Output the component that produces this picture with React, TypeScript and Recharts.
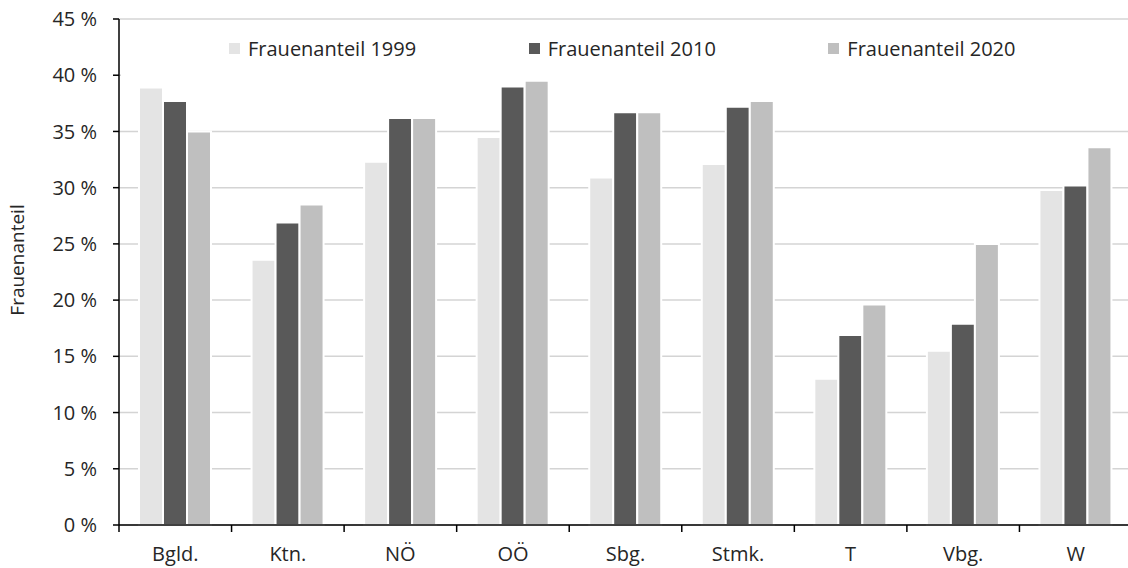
import React from 'react';
import { BarChart, Bar, XAxis, YAxis, CartesianGrid, Legend } from 'recharts';

const categories = ['Bgld.', 'Ktn.', 'NÖ', 'OÖ', 'Sbg.', 'Stmk.', 'T', 'Vbg.', 'W'];
const values1999 = [38.9, 23.6, 32.3, 34.5, 30.9, 32.1, 13.0, 15.5, 29.8];
const values2010 = [37.7, 26.9, 36.2, 39.0, 36.7, 37.2, 16.9, 17.9, 30.2];
const values2020 = [35.0, 28.5, 36.2, 39.5, 36.7, 37.7, 19.6, 25.0, 33.6];
const yTicks = [0, 5, 10, 15, 20, 25, 30, 35, 40, 45];
const seriesNames = ['Frauenanteil 1999', 'Frauenanteil 2010', 'Frauenanteil 2020'];
const seriesColors = ['#e4e4e4', '#595959', '#bfbfbf'];

const data = categories.map((c, i) => ({
  name: c,
  v1999: values1999[i],
  v2010: values2010[i],
  v2020: values2020[i],
}));

const FONT = '"Open Sans", sans-serif';
const TEXT = '#262626';

const XTick = (props: any) => {
  const { x, y, payload } = props;
  const half = payload && payload.offset ? payload.offset : 0;
  return (
    <g>
      <line x1={x - half} x2={x - half} y1={y} y2={y + 7} stroke="#000" strokeWidth={1.5} />
      <text x={x} y={y + 36} textAnchor="middle" fontFamily={FONT} fontSize={20} fill={TEXT}>
        {payload.value}
      </text>
    </g>
  );
};

const YLabel = (props: any) => {
  const vb = props.viewBox || {};
  const cx = (vb.x || 0) + 19;
  const cy = (vb.y || 0) + (vb.height || 0) / 2 - 12;
  return (
    <text
      x={cx}
      y={cy}
      transform={`rotate(-90, ${cx}, ${cy})`}
      textAnchor="middle"
      dominantBaseline="middle"
      fontFamily={FONT}
      fontSize={19}
      fill={TEXT}
    >
      Frauenanteil
    </text>
  );
};

const LegendContent = () => (
  <div
    style={{
      display: 'flex',
      background: '#fff',
      paddingLeft: 108,
      height: 56,
      alignItems: 'center',
      fontFamily: FONT,
      fontSize: 20,
      color: TEXT,
    }}
  >
    {seriesNames.map((n, i) => (
      <div key={n} style={{ width: 303, display: 'flex', alignItems: 'center' }}>
        <span style={{ width: 11, height: 11, background: seriesColors[i], display: 'inline-block', marginRight: 8 }} />
        <span>{n}</span>
      </div>
    ))}
  </div>
);

export default function App() {
  return (
    <div style={{ position: 'absolute', left: 0, top: 0, width: 1128, height: 568, overflow: 'hidden', background: '#fff' }}>
      <BarChart
        width={1132}
        height={568}
        data={data}
        margin={{ top: 19, right: 0, bottom: 0, left: 0 }}
        barGap={0}
        barSize={24}
      >
        <CartesianGrid horizontal vertical={false} stroke="#d4d4d4" strokeWidth={1.5} />
        <XAxis
          dataKey="name"
          height={43}
          tickLine={false}
          tickSize={0}
          tickMargin={0}
          axisLine={{ stroke: '#000', strokeWidth: 1.5 }}
          tick={<XTick />}
          interval={0}
        />
        <YAxis
          width={119}
          domain={[0, 45]}
          ticks={yTicks}
          interval={0}
          tickSize={6}
          tickMargin={16}
          tickFormatter={(v: number) => `${v} %`}
          tick={{ fontFamily: FONT, fontSize: 20, fill: TEXT }}
          tickLine={{ stroke: '#000', strokeWidth: 1.5 }}
          axisLine={{ stroke: '#000', strokeWidth: 1.5 }}
          label={<YLabel />}
        />
        <Legend
          verticalAlign="middle"
          align="center"
          layout="horizontal"
          content={<LegendContent />}
          wrapperStyle={{ top: 20, left: 121, width: 1007, height: 56 }}
        />
        <Bar dataKey="v1999" name={seriesNames[0]} fill={seriesColors[0]} stroke="#fff" strokeWidth={2} isAnimationActive={false} />
        <Bar dataKey="v2010" name={seriesNames[1]} fill={seriesColors[1]} stroke="#fff" strokeWidth={2} isAnimationActive={false} />
        <Bar dataKey="v2020" name={seriesNames[2]} fill={seriesColors[2]} stroke="#fff" strokeWidth={2} isAnimationActive={false} />
      </BarChart>
    </div>
  );
}
